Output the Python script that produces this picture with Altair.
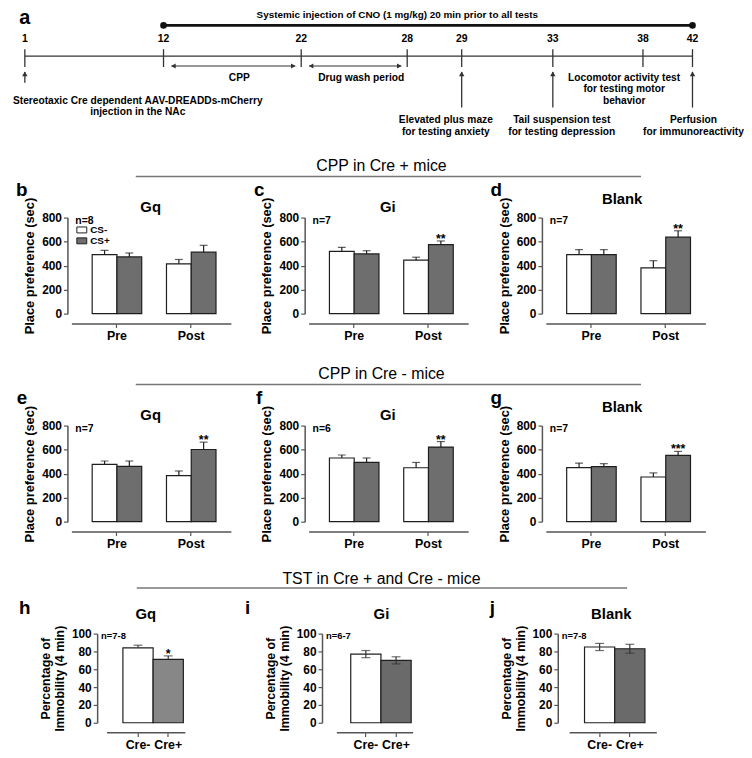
import altair as alt
import pandas as pd

FONT = "Liberation Sans"
INK = "#1e1e1e"
AX = "#555555"

# ---------------- data ----------------
days = [1, 12, 22, 28, 29, 33, 38, 42]
cno_days = [12, 42]
cno_text = "Systemic injection of CNO (1 mg/kg) 20 min prior to all tests"
period_labels = ["CPP", "Drug wash period"]
period_start = [12, 22]
period_end = [22, 28]
injection_day = [1]
test_days = [29, 33, 42]
event_days = [1, 29, 33, 38, 42]
event_labels = [
    "Stereotaxic Cre dependent AAV-DREADDs-mCherry\ninjection in the NAc",
    "Elevated plus maze\nfor testing anxiety",
    "Tail suspension test\nfor testing depression",
    "Locomotor activity test\nfor testing motor\nbehavior",
    "Perfusion\nfor immunoreactivity",
]

section_titles = ["CPP in Cre + mice", "CPP in Cre - mice", "TST in Cre + and Cre - mice"]
panel_letters = ["b", "c", "d", "e", "f", "g", "h", "i", "j"]
panel_titles = ["Gq", "Gi", "Blank"]
n_labels = ["n=8", "n=7", "n=7", "n=7", "n=6", "n=7", "n=7-8", "n=6-7", "n=7-8"]

tests = ["Pre", "Post"]
conds = ["CS-", "CS+"]
# order of values: Pre CS-, Pre CS+, Post CS-, Post CS+
crep_gq = [492, 472, 415, 512]
crep_gq_sem = [35, 33, 36, 57]
crep_gq_sig = ["", "", "", ""]
crep_gi = [519, 497, 445, 575]
crep_gi_sem = [33, 27, 25, 30]
crep_gi_sig = ["", "", "", "**"]
crep_blank = [491, 491, 381, 637]
crep_blank_sem = [42, 42, 60, 53]
crep_blank_sig = ["", "", "", "**"]
cren_gq = [477, 461, 383, 601]
cren_gq_sem = [28, 44, 39, 61]
cren_gq_sig = ["", "", "", "**"]
cren_gi = [530, 494, 449, 621]
cren_gi_sem = [25, 36, 44, 46]
cren_gi_sig = ["", "", "", "**"]
cren_blank = [450, 458, 372, 552]
cren_blank_sem = [38, 25, 34, 33]
cren_blank_sig = ["", "", "", "***"]

groups = ["Cre-", "Cre+"]
tst_gq = [84, 71]
tst_gq_sem = [3, 4]
tst_gq_sig = ["", "*"]
tst_gi = [77, 70]
tst_gi_sem = [4, 4]
tst_gi_sig = ["", ""]
tst_blank = [85, 83]
tst_blank_sem = [4, 5]
tst_blank_sig = ["", ""]


# ---------------- helpers ----------------
def txt(text, x, y, size, weight="bold", align="center", baseline="alphabetic", line_height=None):
    kw = dict(font=FONT, fontSize=size, fontWeight=weight, align=align, baseline=baseline, color="black")
    if line_height:
        kw.update(lineBreak="\n", lineHeight=line_height)
    return alt.Chart(pd.DataFrame({"t": [text]})).mark_text(**kw).encode(
        x=alt.value(x), y=alt.value(y), text="t:N")


def hline(x1, x2, y, color="#777777", width=1.5):
    return alt.Chart(pd.DataFrame({"k": [0]})).mark_rule(color=color, strokeWidth=width).encode(
        x=alt.value(x1), x2=alt.value(x2), y=alt.value(y))


# ---------------- timeline (a), drawn above panel b ----------------
TY = -194  # timeline baseline (CNO bar) relative to the top of panel b
day_rel = [-47, 93, 232, 339, 394, 486, 577, 627]
tsc = alt.Scale(domain=days, range=day_rel, nice=False, zero=False)


def tx(field):
    return alt.X(field, type="quantitative", scale=tsc, axis=None)


anchor = alt.Chart(pd.DataFrame({"k": [0]})).mark_point(opacity=0, size=1, filled=True).encode(
    x=alt.value(-80.4), y=alt.value(-234.4))
df_days = pd.DataFrame({"day": days})
df_span = pd.DataFrame({"start": [days[0]], "end": [days[-1]]})
df_cno = pd.DataFrame({"start": [cno_days[0]], "end": [cno_days[1]]})
df_cno_pts = pd.DataFrame({"day": cno_days})
df_per = pd.DataFrame({"label": period_labels, "start": period_start, "end": period_end})

main_line = alt.Chart(df_span).mark_rule(color="#333", strokeWidth=1.3).encode(
    x=tx("start"), x2="end", y=alt.value(TY + 31))
day_ticks = alt.Chart(df_days).mark_rule(color="#333", strokeWidth=1.3).encode(
    x=tx("day"), y=alt.value(TY + 24), y2=alt.value(TY + 42))
day_text = alt.Chart(df_days).mark_text(font=FONT, fontSize=10.5, fontWeight="bold", baseline="middle").encode(
    x=tx("day"), y=alt.value(TY + 14), text=alt.Text("day:Q", format="d"))
cno_line = alt.Chart(df_cno).mark_rule(color="#111", strokeWidth=2.6).encode(
    x=tx("start"), x2="end", y=alt.value(TY))
cno_pts = alt.Chart(df_cno_pts).mark_point(filled=True, size=45, color="#111", opacity=1).encode(
    x=tx("day"), y=alt.value(TY))
per_rule = alt.Chart(df_per).mark_rule(color="#333", strokeWidth=1.2, xOffset=8, x2Offset=-6).encode(
    x=tx("start"), x2="end", y=alt.value(TY + 41))
per_left = alt.Chart(df_per).mark_point(shape="triangle-left", filled=True, size=28, color="#333", opacity=1,
                                        xOffset=10).encode(x=tx("start"), y=alt.value(TY + 41))
per_right = alt.Chart(df_per).mark_point(shape="triangle-right", filled=True, size=28, color="#333", opacity=1,
                                         xOffset=-8).encode(x=tx("end"), y=alt.value(TY + 41))
per_text = alt.Chart(df_per).transform_calculate(mid="(datum.start + datum.end) / 2").mark_text(
    font=FONT, fontSize=10.3, fontWeight="bold", dx=7, baseline="alphabetic").encode(
    x=tx("mid"), y=alt.value(TY + 56.5), text="label:N")

df_inj = pd.DataFrame({"day": injection_day})
df_tests = pd.DataFrame({"day": test_days})
inj_arrow = alt.Chart(df_inj).mark_rule(color="#333", strokeWidth=1.3).encode(
    x=tx("day"), y=alt.value(TY + 47), y2=alt.value(TY + 58))
test_arrow = alt.Chart(df_tests).mark_rule(color="#333", strokeWidth=1.3).encode(
    x=tx("day"), y=alt.value(TY + 47), y2=alt.value(TY + 83))
heads = alt.Chart(pd.DataFrame({"day": injection_day + test_days})).mark_point(
    shape="triangle-up", filled=True, size=30, color="#333", opacity=1).encode(
    x=tx("day"), y=alt.value(TY + 49))

# per-event label placement: (dx, baseline y, line height)
event_pos = [(114, 79.7, 10.5), (-16, 98.7, 11.5), (9, 98.7, 11.5), (-19, 55.7, 12), (1, 98.7, 11.5)]
event_layers = []
for d, lab, (dx, yy, lh) in zip(event_days, event_labels, event_pos):
    event_layers.append(
        alt.Chart(pd.DataFrame({"day": [d], "label": [lab]})).mark_text(
            font=FONT, fontSize=10.3, fontWeight="bold", dx=dx, baseline="alphabetic",
            lineBreak="\n", lineHeight=lh).encode(x=tx("day"), y=alt.value(TY + yy), text="label:N"))

timeline = alt.layer(
    anchor, main_line, day_ticks, day_text, cno_line, cno_pts, per_rule, per_left, per_right, per_text,
    inj_arrow, test_arrow, heads, *event_layers,
    txt("a", -47, TY - 1, 20), txt(cno_text, 329, TY - 7, 10),
)

# ---------------- CPP panels ----------------
W, CPP_H, TST_H = 161, 97, 90
x_axis = alt.Axis(title=None, orient="bottom", labelAngle=0, labelFont=FONT, labelFontSize=12.5,
                  labelFontWeight="bold", labelColor="black", domainColor=AX, domainWidth=1.5, tickColor=AX,
                  tickWidth=1.2, tickSize=4, offset=10, labelPadding=2)
cpp_y_axis = alt.Axis(title="Place preference (sec)", values=[0, 200, 400, 600, 800], grid=False, offset=4,
                      tickSize=4, tickColor=AX, tickWidth=1.2, domainColor=AX, domainWidth=1.5,
                      labelFont=FONT, labelFontSize=12, labelFontWeight="bold", labelColor="black",
                      labelPadding=2, titleFont=FONT, titleFontSize=13, titleFontWeight="bold",
                      titleColor="black", titleX=-38, titleBaseline="middle")


def cpp_panel(idx, means, sems, sigs, title_dy, section=None, legend=False):
    letter = panel_letters[idx]
    title = panel_titles[idx % 3]
    df = pd.DataFrame({
        "Test": [t for t in tests for _ in conds],
        "Cond": conds * len(tests),
        "mean": means, "sem": sems, "sig": sigs,
    })
    df["upper"] = df["mean"] + df["sem"]
    ysc = alt.Scale(domain=[0, 800], nice=False)
    base = alt.Chart(df).encode(
        x=alt.X("Test:N", sort=tests, scale=alt.Scale(paddingInner=1 / 3, paddingOuter=0.24, align=0.583),
                axis=x_axis),
        xOffset=alt.XOffset("Cond:N", sort=conds, scale=alt.Scale(paddingInner=0, paddingOuter=0)))
    if legend:
        leg = alt.Legend(title=None, orient="none", legendX=5, legendY=7, padding=0, rowPadding=0,
                         symbolType="M-1,-0.6H1V0.6H-1Z", symbolSize=100, symbolStrokeColor=INK,
                         symbolStrokeWidth=1, labelFont=FONT, labelFontSize=10, labelFontWeight="bold",
                         labelColor="black", labelOffset=3)
    else:
        leg = None
    bars = base.mark_bar(stroke=INK, strokeWidth=1.2).encode(
        y=alt.Y("mean:Q", scale=ysc, axis=cpp_y_axis, stack=None),
        fill=alt.Fill("Cond:N", sort=conds, scale=alt.Scale(domain=conds, range=["#ffffff", "#6e6e6e"]),
                      legend=leg))
    err = base.mark_rule(color=INK, strokeWidth=1.2).encode(
        y=alt.Y("mean:Q", scale=ysc, axis=cpp_y_axis), y2="upper:Q")
    caps = base.mark_tick(color=INK, thickness=1.2, size=8).encode(
        y=alt.Y("upper:Q", scale=ysc, axis=cpp_y_axis))
    stars = base.mark_text(font=FONT, fontSize=12.5, fontWeight="bold", baseline="alphabetic", dy=2).encode(
        y=alt.Y("upper:Q", scale=ysc, axis=cpp_y_axis), text="sig:N")
    layers = [bars, err, caps, stars,
              txt(letter, -50, -22, 19),
              txt(title, 80 if title != "Blank" else 77, title_dy, 15),
              txt(n_labels[idx], 4, 3, 10.5, align="left", baseline="middle")]
    if section is not None:
        layers += [hline(-174.5, 335.5, -41.5), txt(section, 73.5, -47, 16, weight="normal")]
    return alt.layer(*layers).properties(width=W, height=CPP_H)


# ---------------- TST panels ----------------
tst_x_axis = alt.Axis(title=None, orient="bottom", labelAngle=0, labelFont=FONT, labelFontSize=12.5,
                      labelFontWeight="bold", labelColor="black", domain=False, tickColor=AX, tickWidth=1.2,
                      tickSize=4, offset=10, labelPadding=2)


def tst_panel(idx, means, sems, sigs, both, gray, axis_rel, bar_left, letter_x, title_x, xline,
              section=None):
    letter = panel_letters[idx]
    title = panel_titles[idx % 3]
    df = pd.DataFrame({"Group": groups, "mean": means, "sem": sems, "sig": sigs})
    df["upper"] = df["mean"] + df["sem"]
    df["lower"] = (df["mean"] - df["sem"]) if both else df["mean"]
    yax = alt.Axis(title=["Percentage of", "Immobility (4 min)"], values=[0, 20, 40, 60, 80, 100], grid=False,
                   offset=-axis_rel, tickSize=4, tickColor=AX, tickWidth=1.2, domainColor=AX, domainWidth=1.5,
                   labelFont=FONT, labelFontSize=12, labelFontWeight="bold", labelColor="black",
                   labelPadding=2, titleFont=FONT, titleFontSize=12.5, titleFontWeight="bold",
                   titleColor="black", titleX=-52, titleBaseline="middle", titleLineHeight=14.5)
    ysc = alt.Scale(domain=[0, 100], nice=False)
    base = alt.Chart(df).encode(
        x=alt.X("Group:N", sort=groups,
                scale=alt.Scale(range=[bar_left, bar_left + 61], paddingInner=0, paddingOuter=0),
                axis=tst_x_axis))
    bars = base.mark_bar(stroke=INK, strokeWidth=1.2).encode(
        y=alt.Y("mean:Q", scale=ysc, axis=yax, stack=None),
        fill=alt.Fill("Group:N", sort=groups, scale=alt.Scale(domain=groups, range=["#ffffff", gray]),
                      legend=None))
    err = base.mark_rule(color="#333", strokeWidth=1.2).encode(
        y=alt.Y("lower:Q", scale=ysc, axis=yax), y2="upper:Q")
    caps = base.mark_tick(color="#333", thickness=1.2, size=9).encode(
        y=alt.Y("upper:Q", scale=ysc, axis=yax))
    stars = base.mark_text(font=FONT, fontSize=12.5, fontWeight="bold", baseline="alphabetic", dy=2).encode(
        y=alt.Y("upper:Q", scale=ysc, axis=yax), text="sig:N")
    layers = [bars, err, caps, stars]
    if both:
        layers.append(base.mark_tick(color="#333", thickness=1.2, size=9).encode(
            y=alt.Y("lower:Q", scale=ysc, axis=yax)))
    layers += [hline(xline[0], xline[1], TST_H + 10, color=AX, width=1.5),
               txt(letter, letter_x, -20, 19),
               txt(title, title_x, -15, 15),
               txt(n_labels[idx], axis_rel + 4, 2, 9.5, align="left", baseline="middle")]
    if section is not None:
        layers += [hline(-173.5, 321.5, -46), txt(section, 73.5, -50, 16, weight="normal")]
    return alt.layer(*layers).properties(width=W, height=TST_H)


RES = dict(x="independent", y="independent", fill="independent", xOffset="independent")

b_panel = cpp_panel(0, crep_gq, crep_gq_sem, crep_gq_sig, -6, legend=True)
b = alt.layer(b_panel, timeline).resolve_scale(x="independent")
c = cpp_panel(1, crep_gi, crep_gi_sem, crep_gi_sig, -6, section=section_titles[0])
d = cpp_panel(2, crep_blank, crep_blank_sem, crep_blank_sig, -14)
e = cpp_panel(3, cren_gq, cren_gq_sem, cren_gq_sig, -6)
f = cpp_panel(4, cren_gi, cren_gi_sem, cren_gi_sig, -6, section=section_titles[1])
g = cpp_panel(5, cren_blank, cren_blank_sem, cren_blank_sig, -14)
h = tst_panel(6, tst_gq, tst_gq_sem, tst_gq_sig, False, "#878787", 26, 52, -47, 75, (36, 115))
i = tst_panel(7, tst_gi, tst_gi_sem, tst_gi_sig, True, "#6a6a6a", 13.5, 42.5, -61.5, 73.5, (28.5, 105.5),
              section=section_titles[2])
j = tst_panel(8, tst_blank, tst_blank_sem, tst_blank_sig, True, "#6a6a6a", 12, 39, -54, 66, (24, 112))

chart = alt.concat(
    b, c, d, e, f, g, h, i, j, columns=3, spacing={"row": 113, "column": 78.5}, bounds="flush"
).resolve_scale(**RES).properties(
    padding={"left": -17, "top": -27, "right": 0, "bottom": 0}
).configure_view(stroke=None)

chart.save("out.html", embed_options={"renderer": "svg", "actions": False})
